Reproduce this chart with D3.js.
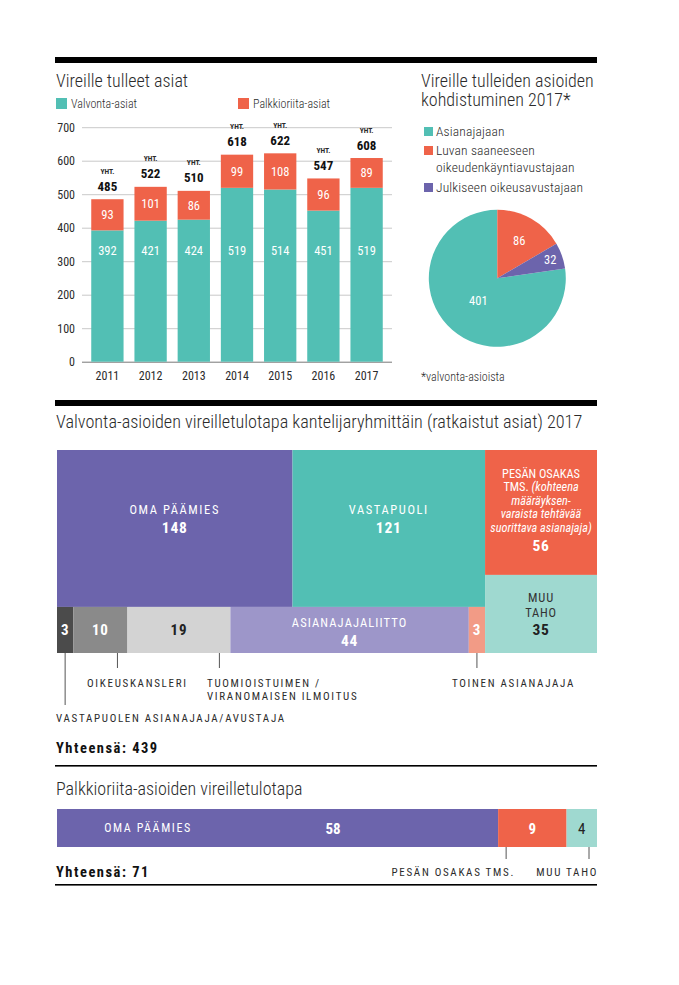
<!DOCTYPE html>
<html><head><meta charset="utf-8">
<script src="https://cdn.jsdelivr.net/npm/d3@7"></script>
<style>
body{margin:0;background:#fff}
svg{display:block}
text{font-family:"Roboto Condensed","Open Sans",sans-serif;font-weight:300}
text.b{font-weight:700}
text.r{font-weight:400}
</style>
</head><body>
<svg id="c" width="679" height="985"></svg>
<script>
// ---------- DATA ----------
const years = ["2011","2012","2013","2014","2015","2016","2017"];
const valvonta = [392,421,424,519,514,451,519];
const palkkio = [93,101,86,99,108,96,89];
const totals = [485,522,510,618,622,547,608];
const yTicks = [0,100,200,300,400,500,600,700];
const barSeries = ["Valvonta-asiat","Palkkioriita-asiat"];

const pieCategories = ["Asianajajaan","Luvan saaneeseen oikeudenkäyntiavustajaan","Julkiseen oikeusavustajaan"];
const pieValues = [401,86,32];

const tmCategories = ["OMA PÄÄMIES","VASTAPUOLI","VASTAPUOLEN ASIANAJAJA/AVUSTAJA","OIKEUSKANSLERI","TUOMIOISTUIMEN / VIRANOMAISEN ILMOITUS","ASIANAJAJALIITTO","TOINEN ASIANAJAJA","PESÄN OSAKAS TMS. (kohteena määräyksenvaraista tehtävää suorittava asianajaja)","MUU TAHO"];
const tmValues = [148,121,3,10,19,44,3,56,35];
const tmGroups = ["top","top","bottom","bottom","bottom","bottom","bottom","right","right"];
const tmTotal = 439;

const pkCategories = ["OMA PÄÄMIES","PESÄN OSAKAS TMS.","MUU TAHO"];
const pkValues = [58,9,4];
const pkTotal = 71;

// ---------- STYLE ----------
const TEAL="#52bfb4", RED="#ef6349", PURPLE="#6c64ac", LPURPLE="#9d96c9", SALMON="#f29b86", LTEAL="#9fd9d0";
const DARK="#4b4b4b", MGREY="#8a8a8a", LGREY="#d3d3d3";
const tmColors = [PURPLE,TEAL,DARK,MGREY,LGREY,LPURPLE,SALMON,RED,LTEAL];
const pkColors = [PURPLE,RED,LTEAL];
const TXT="#2b2b2b";
const CAPS=11, CAPLS=1.7;

const svg = d3.select("#c");

// separators
svg.append("rect").attr("x",55).attr("y",57).attr("width",542).attr("height",6).attr("fill","#000");
svg.append("rect").attr("x",55).attr("y",400).attr("width",542).attr("height",6).attr("fill","#000");

// ---------- BAR CHART ----------
svg.append("text").attr("x",56).attr("y",86.5).attr("font-size",18).attr("fill",TXT).text("Vireille tulleet asiat");
const legX=[56,238], legC=[TEAL,RED];
barSeries.forEach((s,i)=>{
  svg.append("rect").attr("x",legX[i]).attr("y",98).attr("width",11).attr("height",11).attr("fill",legC[i]);
  svg.append("text").attr("x",legX[i]+15).attr("y",107.5).attr("font-size",12).attr("fill",TXT).text(s);
});

const x = d3.scaleBand().domain(years).range([82,392]).paddingInner(0.252).paddingOuter(0.214);
const y = d3.scaleLinear().domain([0,700]).range([361.7,127.2]);

const yAx = svg.append("g").attr("transform","translate(82,0)")
  .call(d3.axisLeft(y).tickValues(yTicks).tickSize(-310).tickPadding(7));
yAx.select(".domain").remove();
yAx.selectAll(".tick line").attr("stroke",d=>d===0?"#777":"#c9c9c9").attr("stroke-width",1);
yAx.selectAll(".tick text").attr("class","r").attr("font-size",12).attr("fill",TXT).attr("font-family","Roboto Condensed");

const xAx = svg.append("g").attr("transform","translate(0,361.7)")
  .call(d3.axisBottom(x).tickSize(0).tickPadding(10));
xAx.select(".domain").remove();
xAx.selectAll(".tick text").attr("class","r").attr("font-size",12).attr("fill",TXT).attr("font-family","Roboto Condensed");

const bars = svg.append("g");
years.forEach((yr,i)=>{
  const bx=x(yr), bw=x.bandwidth(), cx=bx+bw/2;
  bars.append("rect").attr("x",bx).attr("width",bw).attr("y",y(valvonta[i])).attr("height",y(0)-y(valvonta[i])).attr("fill",TEAL);
  bars.append("rect").attr("x",bx).attr("width",bw).attr("y",y(valvonta[i]+palkkio[i])).attr("height",y(valvonta[i])-y(valvonta[i]+palkkio[i])).attr("fill",RED);
  bars.append("text").attr("class","r").attr("x",cx).attr("y",y(333)).attr("dy","0.35em").attr("text-anchor","middle").attr("font-size",12.5).attr("fill","#fff").text(valvonta[i]);
  bars.append("text").attr("class","r").attr("x",cx).attr("y",y(valvonta[i]+palkkio[i]/2)).attr("dy","0.35em").attr("text-anchor","middle").attr("font-size",12.5).attr("fill","#fff").text(palkkio[i]);
  const top=y(totals[i]);
  bars.append("text").attr("class","b").attr("x",cx).attr("y",top-28).attr("dy","0.35em").attr("text-anchor","middle").attr("font-size",7.5).attr("fill",TXT).text("YHT.");
  bars.append("text").attr("class","b").attr("x",cx).attr("y",top-13).attr("dy","0.35em").attr("text-anchor","middle").attr("font-size",13).attr("fill","#111").text(totals[i]);
});

// ---------- PIE ----------
svg.append("text").attr("x",421).attr("y",86.5).attr("font-size",18).attr("fill",TXT).text("Vireille tulleiden asioiden");
svg.append("text").attr("x",421).attr("y",106).attr("font-size",18).attr("fill",TXT).text("kohdistuminen 2017*");
const pieColors=[TEAL,RED,PURPLE];
const legLines=[["Asianajajaan"],["Luvan saaneeseen","oikeudenkäyntiavustajaan"],["Julkiseen oikeusavustajaan"]];
const legY=[127,146,183];
pieCategories.forEach((c,i)=>{
  svg.append("rect").attr("x",424).attr("y",legY[i]).attr("width",9).attr("height",9).attr("fill",pieColors[i]);
  legLines[i].forEach((l,j)=>svg.append("text").attr("x",436).attr("y",legY[i]+9+j*16.5).attr("font-size",13.5).attr("letter-spacing",0.15).attr("fill",TXT).text(l));
});
const total519 = d3.sum(pieValues);
const sa = -pieValues[0]/total519*2*Math.PI;
const pie = d3.pie().sort(null).startAngle(sa).endAngle(sa+2*Math.PI);
const R=68.5;
const arc = d3.arc().innerRadius(0).outerRadius(R);
const pg = svg.append("g").attr("transform","translate(497.3,278.3)");
const arcs = pie(pieValues);
pg.selectAll("path").data(arcs).join("path").attr("d",arc).attr("fill",(d,i)=>pieColors[i]);
pg.selectAll("text").data(arcs).join("text").attr("class","r")
  .attr("transform",d=>{
    const r = d.value>200?29:(d.value<50?56:44);
    const a=(d.startAngle+d.endAngle)/2;
    return `translate(${r*Math.sin(a)},${-r*Math.cos(a)})`;
  })
  .attr("dy","0.35em").attr("text-anchor","middle").attr("font-size",12.5).attr("fill","#fff").text(d=>d.value);
svg.append("text").attr("x",421).attr("y",381).attr("font-size",12).attr("fill",TXT).text("*valvonta-asioista");

// ---------- TREEMAP ----------
svg.append("text").attr("x",56).attr("y",427.5).attr("font-size",18.2).attr("fill",TXT).text("Valvonta-asioiden vireilletulotapa kantelijaryhmittäin (ratkaistut asiat) 2017");

const items = tmCategories.map((c,i)=>({name:c,value:tmValues[i],idx:i,group:tmGroups[i]}));
const treeData = {name:"root",children:[
  {name:"left",children:[
    {name:"top",children:items.filter(d=>d.group==="top")},
    {name:"bottom",children:items.filter(d=>d.group==="bottom")}
  ]},
  {name:"right",children:items.filter(d=>d.group==="right")}
]};
const root = d3.hierarchy(treeData).sum(d=>d.children?0:d.value);
d3.treemap().tile(d3.treemapSliceDice).size([540,203])(root);
const tg = svg.append("g").attr("transform","translate(57,450)");
const leaves = root.leaves();
tg.selectAll("rect").data(leaves).join("rect")
  .attr("x",d=>d.x0).attr("y",d=>d.y0).attr("width",d=>d.x1-d.x0).attr("height",d=>d.y1-d.y0)
  .attr("fill",d=>tmColors[d.data.idx]);

function cap(g,x,yy,t,fill,size,ls){
  return g.append("text").attr("class","r").attr("x",x).attr("y",yy).attr("text-anchor","middle").attr("font-size",size||12).attr("letter-spacing",ls==null?1.6:ls).attr("fill",fill).text(t);
}
function num(g,x,yy,t,fill,size){
  return g.append("text").attr("class","b").attr("x",x).attr("y",yy).attr("text-anchor","middle").attr("font-size",size||15).attr("letter-spacing",0.8).attr("fill",fill).text(t);
}
leaves.forEach(d=>{
  const i=d.data.idx, cx=(d.x0+d.x1)/2, v=d.data.value;
  if(i===0||i===1){
    cap(tg,cx,64,d.data.name,"#fff",12.5);
    num(tg,cx,83,v,"#fff",15.5);
  } else if(i===5){
    cap(tg,cx,177,d.data.name,"#fff",12.5,1.1);
    num(tg,cx,196,v,"#fff",15.5);
  } else if(i===7){
    const L=[["PESÄN OSAKAS",false],["TMS. ",false,"(kohteena"],["määräyksen-",true],["varaista tehtävää",true],["suorittava asianajaja)",true]];
    L.forEach((l,j)=>{
      const t=tg.append("text").attr("class","r").attr("x",cx).attr("y",d.y0+27.5+j*13.5).attr("text-anchor","middle").attr("font-size",12.3).attr("fill","#fff");
      if(l[2]){t.append("tspan").text(l[0]);t.append("tspan").attr("font-style","italic").text(l[2]);}
      else t.attr("font-style",l[1]?"italic":"normal").text(l[0]);
    });
    num(tg,cx,d.y0+101,v,"#fff",15.5);
  } else if(i===8){
    cap(tg,cx,d.y0+27,"MUU","#333",12.5,0.8);
    cap(tg,cx,d.y0+42.5,"TAHO","#333",12.5,0.8);
    num(tg,cx,d.y0+60,v,"#222",15.5);
  } else {
    num(tg,cx,(d.y0+d.y1)/2+5.5,v,i===4?"#222":"#fff",15);
  }
});
// leader lines for small cells
const leader = (x1,y1,y2)=>svg.append("line").attr("x1",x1).attr("x2",x1).attr("y1",y1).attr("y2",y2).attr("stroke","#555").attr("stroke-width",1);
const capTxt=(xx,yy,t,anchor)=>svg.append("text").attr("class","r").attr("x",xx).attr("y",yy).attr("text-anchor",anchor||"start").attr("font-size",CAPS).attr("letter-spacing",CAPLS).attr("fill",TXT).text(t);
leaves.forEach(d=>{
  const i=d.data.idx; const base=450+d.y1;
  if(i===2){ leader(57+(d.x0+d.x1)/2,base,base+52); capTxt(56,722,d.data.name);}
  if(i===3){ leader(57+d.x1-10,base,base+15); capTxt(87,687,d.data.name);}
  if(i===4){ leader(57+d.x1-11,base,base+15);
    const parts=d.data.name.split(" / ");
    capTxt(207,687,parts[0]+" /"); capTxt(207,699.5,parts[1]);}
  if(i===6){ leader(57+(d.x0+d.x1)/2,base,base+15); capTxt(452,687,d.data.name);}
});
svg.append("text").attr("class","b").attr("x",56).attr("y",753).attr("font-size",14.5).attr("letter-spacing",1.5).attr("fill","#111").text("Yhteensä: "+tmTotal);
svg.append("rect").attr("x",55).attr("y",765).attr("width",542).attr("height",1.6).attr("fill","#000");

// ---------- PALKKIORIITA BAR ----------
svg.append("text").attr("x",56).attr("y",795).attr("font-size",18).attr("fill",TXT).text("Palkkioriita-asioiden vireilletulotapa");
const px = d3.scaleLinear().domain([0,pkTotal]).range([57,597]);
const cum = d3.cumsum(pkValues);
const starts = pkValues.map((v,i)=>cum[i]-v);
const pb = svg.append("g");
pkValues.forEach((v,i)=>{
  pb.append("rect").attr("x",px(starts[i])).attr("y",809).attr("width",px(cum[i])-px(starts[i])).attr("height",38).attr("fill",pkColors[i]);
});
pb.append("text").attr("class","r").attr("x",148).attr("y",832).attr("text-anchor","middle").attr("font-size",12).attr("letter-spacing",1.6).attr("fill","#fff").text(pkCategories[0]);
pb.append("text").attr("class","b").attr("x",333).attr("y",833.5).attr("text-anchor","middle").attr("font-size",15).attr("fill","#fff").text(pkValues[0]);
pb.append("text").attr("class","b").attr("x",(px(starts[1])+px(cum[1]))/2).attr("y",833.5).attr("text-anchor","middle").attr("font-size",15).attr("fill","#fff").text(pkValues[1]);
pb.append("text").attr("class","r").attr("x",(px(starts[2])+px(cum[2]))/2).attr("y",833.5).attr("text-anchor","middle").attr("font-size",15).attr("fill","#222").text(pkValues[2]);
leader(px(starts[1])+8,847,859);
leader(px(cum[2])-8,847,859);
capTxt(515,876,pkCategories[1],"end");
capTxt(598,876,pkCategories[2],"end");
svg.append("text").attr("class","b").attr("x",56).attr("y",876.5).attr("font-size",14.5).attr("letter-spacing",1.5).attr("fill","#111").text("Yhteensä: "+pkTotal);
svg.append("rect").attr("x",55).attr("y",884).attr("width",542).attr("height",1.6).attr("fill","#000");
</script>
</body></html>
